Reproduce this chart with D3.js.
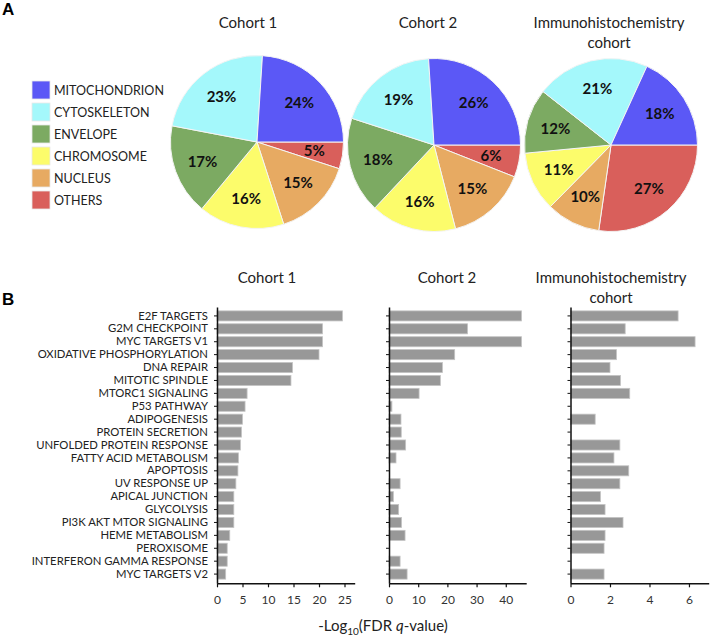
<!DOCTYPE html>
<html>
<head>
<meta charset="utf-8">
<script src="https://cdn.jsdelivr.net/npm/d3@7"></script>
<style>
  body { margin: 0; background: #fff; }
  text { font-family: Lato, "Open Sans", sans-serif; }
</style>
</head>
<body>
<script>
// pie data (percent of proteins by compartment)
var compartments = ["MITOCHONDRION", "CYTOSKELETON", "ENVELOPE", "CHROMOSOME", "NUCLEUS", "OTHERS"];
var pieCohort1 = [24, 23, 17, 16, 15, 5];
var pieCohort2 = [26, 19, 18, 16, 15, 6];
var pieIhc = [18, 21, 12, 11, 10, 27];

// hallmark pathways, -log10 FDR q
var pathways = ["E2F TARGETS", "G2M CHECKPOINT", "MYC TARGETS V1", "OXIDATIVE PHOSPHORYLATION",
  "DNA REPAIR", "MITOTIC SPINDLE", "MTORC1 SIGNALING", "P53 PATHWAY", "ADIPOGENESIS",
  "PROTEIN SECRETION", "UNFOLDED PROTEIN RESPONSE", "FATTY ACID METABOLISM", "APOPTOSIS",
  "UV RESPONSE UP", "APICAL JUNCTION", "GLYCOLYSIS", "PI3K AKT MTOR SIGNALING",
  "HEME METABOLISM", "PEROXISOME", "INTERFERON GAMMA RESPONSE", "MYC TARGETS V2"];
var fdrCohort1 = [24.6, 20.7, 20.7, 20.0, 14.8, 14.5, 5.9, 5.5, 5.0, 4.8, 4.6, 4.2, 4.1, 3.7, 3.3, 3.3, 3.3, 2.5, 2.0, 2.0, 1.7];
var fdrCohort2 = [45.4, 26.9, 45.4, 22.5, 18.3, 17.6, 10.3, 1.0, 4.1, 4.2, 5.7, 2.4, null, 3.8, 1.5, 3.3, 4.3, 5.5, null, 3.8, 6.2];
var fdrIhc = [5.45, 2.77, 6.31, 2.33, 2.0, 2.53, 3.0, null, 1.25, null, 2.5, 2.2, 2.95, 2.5, 1.52, 1.75, 2.66, 1.75, 1.7, null, 1.7];
var ticksCohort1 = [0, 5, 10, 15, 20, 25];
var ticksCohort2 = [0, 10, 20, 30, 40];
var ticksIhc = [0, 2, 4, 6];

var colors = d3.scaleOrdinal()
  .domain(compartments)
  .range(["#5b58f6", "#a4f8fb", "#7caa62", "#fcfc6b", "#e7aa62", "#d95f5b"]);

var svg = d3.select("body").append("svg").attr("width", 710).attr("height", 636);

// panel letters
svg.append("text").attr("x", 2).attr("y", 15).text("A")
  .style("font-family", "Liberation Sans, Arial, sans-serif").style("font-weight", "bold").style("font-size", "17px");
svg.append("text").attr("x", 2).attr("y", 305).text("B")
  .style("font-family", "Liberation Sans, Arial, sans-serif").style("font-weight", "bold").style("font-size", "17px");

// legend
var legend = svg.append("g").attr("transform", "translate(32,81)");
var legItem = legend.selectAll("g").data(compartments).enter().append("g")
  .attr("transform", function(d, i) { return "translate(0," + (i * 22) + ")"; });
legItem.append("rect").attr("width", 18).attr("height", 18)
  .attr("fill", function(d) { return colors(d); })
  .attr("stroke", "#e8e8e8").attr("stroke-width", 0.8);
legItem.append("text").attr("x", 22).attr("y", 14).text(function(d) { return d; })
  .style("font-size", "12.5px").attr("fill", "#222");

// pies
var pies = [
  {vals: pieCohort1, cx: 257, cy: 142, title: ["Cohort 1"]},
  {vals: pieCohort2, cx: 434, cy: 145, title: ["Cohort 2"]},
  {vals: pieIhc, cx: 611, cy: 145, title: ["Immunohistochemistry", "cohort"]}
];
var R = 86.5;
var pie = d3.pie().sort(null).startAngle(Math.PI / 2).endAngle(Math.PI / 2 + 2 * Math.PI)
  .value(function(d) { return d.v; });
var arc = d3.arc().innerRadius(0).outerRadius(R);
var labelArc = d3.arc().innerRadius(R * 0.67).outerRadius(R * 0.67);

pies.forEach(function(p, k) {
  var g = svg.append("g").attr("transform", "translate(" + p.cx + "," + p.cy + ")");
  // excel draws counterclockwise from 3 o'clock, so reverse for d3's clockwise
  var rows = compartments.map(function(c, i) { return {c: c, v: p.vals[i]}; }).reverse();
  var slices = pie(rows);
  g.selectAll("path").data(slices).enter().append("path")
    .attr("d", arc)
    .attr("fill", function(d) { return colors(d.data.c); })
    .attr("stroke", "#f4f4f4").attr("stroke-width", 1);
  g.selectAll(".pl").data(slices).enter().append("text")
    .attr("class", "pl")
    .attr("transform", function(d) { return "translate(" + labelArc.centroid(d) + ")"; })
    .attr("text-anchor", "middle").attr("dy", "0.36em")
    .style("font-size", "15px").style("font-weight", "bold").attr("fill", "#111")
    .text(function(d) { return d.data.v + "%"; });
  p.title.forEach(function(t, j) {
    svg.append("text").attr("x", p.cx - (k == 0 ? 9 : k == 1 ? 6 : 2)).attr("y", 28 + j * 20)
      .attr("text-anchor", "middle").style("font-size", "15px").attr("fill", "#222").text(t);
  });
});

// bar panels
var y = d3.scaleBand().domain(pathways).range([307, 583]).paddingInner(0.22).paddingOuter(0.3);

var panels = [
  {vals: fdrCohort1, x0: 217, x1: 354.7, max: 27, ticks: ticksCohort1, title: ["Cohort 1"], tx: 267},
  {vals: fdrCohort2, x0: 389, x1: 526.2, max: 47, ticks: ticksCohort2, title: ["Cohort 2"], tx: 447},
  {vals: fdrIhc, x0: 570.5, x1: 708.7, max: 7, ticks: ticksIhc, title: ["Immunohistochemistry", "cohort"], tx: 611}
];

panels.forEach(function(p, k) {
  var x = d3.scaleLinear().domain([0, p.max]).range([p.x0, p.x1]);
  var g = svg.append("g");
  var rows = pathways.map(function(n, i) { return {n: n, v: p.vals[i]}; })
    .filter(function(d) { return d.v != null; });
  g.selectAll("rect").data(rows).enter().append("rect")
    .attr("x", x(0))
    .attr("y", function(d) { return y(d.n); })
    .attr("width", function(d) { return x(d.v) - x(0); })
    .attr("height", y.bandwidth())
    .attr("fill", "#989898").attr("stroke", "#c4c4c4").attr("stroke-width", 0.8);

  var xAxis = g.append("g").attr("transform", "translate(0,583.3)")
    .call(d3.axisBottom(x).tickValues(p.ticks).tickFormat(d3.format("d"))
      .tickSize(4).tickPadding(8).tickSizeOuter(0));
  xAxis.select(".domain").attr("stroke", "#111").attr("stroke-width", 1.5);
  xAxis.selectAll(".tick line").attr("stroke", "#111").attr("stroke-width", 1.2);
  xAxis.selectAll("text").style("font-size", "12px").style("font-family", "Lato, sans-serif").attr("fill", "#333");

  var yAxis = g.append("g").attr("transform", "translate(" + x(0) + ",0)")
    .call(d3.axisLeft(y).tickSize(3).tickPadding(6).tickSizeOuter(0));
  yAxis.select(".domain").attr("stroke", "#111").attr("stroke-width", 1.5);
  yAxis.selectAll(".tick line").attr("stroke", "#111").attr("stroke-width", 1);
  if (k == 0) {
    yAxis.selectAll("text").style("font-size", "11.3px").style("font-family", "Lato, sans-serif").attr("fill", "#222");
  } else {
    yAxis.selectAll("text").remove();
  }

  p.title.forEach(function(t, j) {
    svg.append("text").attr("x", p.tx).attr("y", 283 + j * 20)
      .attr("text-anchor", "middle").style("font-size", "15px").attr("fill", "#222").text(t);
  });
});

// shared x title
var xt = svg.append("text").attr("x", 383).attr("y", 631).attr("text-anchor", "middle")
  .style("font-size", "15px").attr("fill", "#222");
xt.append("tspan").text("-Log");
xt.append("tspan").attr("dy", 4).style("font-size", "10px").text("10");
xt.append("tspan").attr("dy", -4).text("(FDR ");
xt.append("tspan").style("font-style", "italic").text("q");
xt.append("tspan").text("-value)");
</script>
</body>
</html>
